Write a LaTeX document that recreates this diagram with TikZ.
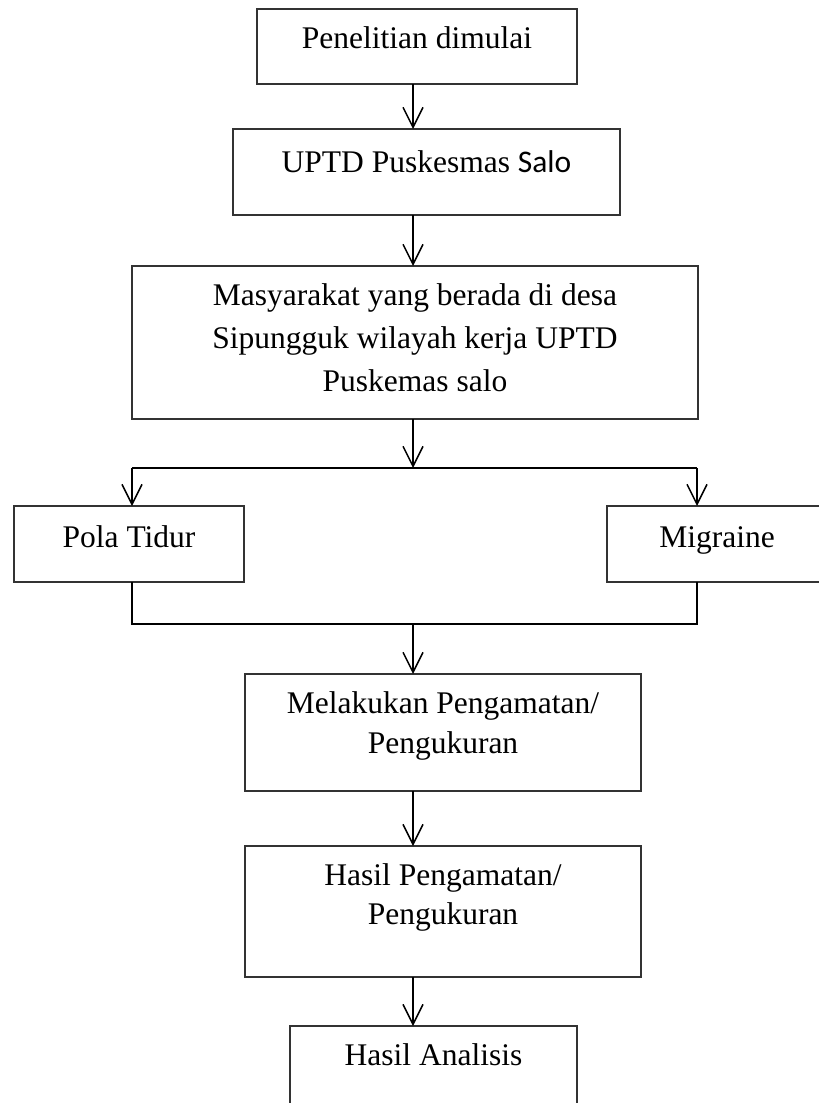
\documentclass[tikz,border=0pt]{standalone}
\usepackage{fontspec}
\setmainfont{Liberation Serif}
\newfontfamily\salofont{Carlito}
\usetikzlibrary{arrows.meta}

\begin{document}
\begin{tikzpicture}[x=1pt,y=-1pt,>={Straight Barb[length=20pt,width=20pt]},
  kotak/.style={draw=black!80,line width=1.2pt,inner sep=0pt,outer sep=0pt},
  isi/.style={font=\fontsize{31.5}{43}\selectfont,inner sep=0pt,align=center,anchor=base},
  garis/.style={line width=1.5pt}]

\useasboundingbox (0,0) rectangle (819,1103);

\node(mulai) at (417,46.5)[kotak,minimum width=320pt,minimum height=75pt]{};
\node(puskesmas) at (426.5,172)[kotak,minimum width=387pt,minimum height=86pt]{};
\node(masyarakat) at (415,342.5)[kotak,minimum width=566pt,minimum height=153pt]{};
\node(pola) at (129,544)[kotak,minimum width=230pt,minimum height=76pt]{};
\node(migrain) at (717,544)[kotak,minimum width=220pt,minimum height=76pt]{};
\node(amati) at (443,732.5)[kotak,minimum width=396pt,minimum height=117pt]{};
\node(hasil) at (443,911.5)[kotak,minimum width=396pt,minimum height=131pt]{};
\node(analisis) at (433.5,1073)[kotak,minimum width=287pt,minimum height=94pt]{};

% base of a multi-line node is its last line
\node(tmulai) at ([yshift=-39pt]mulai.north)[isi]{Penelitian dimulai};
\node(tpuskesmas) at ([yshift=-43pt]puskesmas.north)[isi]{UPTD Puskesmas {\salofont Salo}};
\node(tmasyarakat) at ([yshift=-125pt]masyarakat.north)[isi]{Masyarakat yang berada di desa\\ Sipungguk wilayah kerja UPTD\\ Puskemas salo};
\node(tpola) at ([yshift=-41pt]pola.north)[isi]{Pola Tidur};
\node(tmigrain) at ([yshift=-41pt]migrain.north)[isi]{Migraine};
\node(tamati) at ([yshift=-79pt]amati.north)[isi,font=\fontsize{31.5}{40}\selectfont]{Melakukan Pengamatan/\\ Pengukuran};
\node(thasil) at ([yshift=-78pt]hasil.north)[isi,font=\fontsize{31.5}{39}\selectfont]{Hasil Pengamatan/\\ Pengukuran};
\node(tanalisis) at ([yshift=-39pt]analisis.north)[isi]{Hasil Analisis};

\coordinate(cabang) at (413,468);
\coordinate(kiri) at (132,468);
\coordinate(kanan) at (697,468);
\coordinate(gabung) at (413,624);

\draw[garis,->] (mulai.south -| cabang) -- (puskesmas.north -| cabang);
\draw[garis,->] (puskesmas.south -| cabang) -- (masyarakat.north -| cabang);
\draw[garis,->] (masyarakat.south -| cabang) -- (cabang);
\draw[garis] (kiri) -- (kanan);
\draw[garis,->] (kiri) -- (pola.north -| kiri);
\draw[garis,->] (kanan) -- (migrain.north -| kanan);
\draw[garis] (pola.south -| kiri) |- (gabung) -| (migrain.south -| kanan);
\draw[garis,->] (gabung) -- (amati.north -| gabung);
\draw[garis,->] (amati.south -| gabung) -- (hasil.north -| gabung);
\draw[garis,->] (hasil.south -| gabung) -- (analisis.north -| gabung);

\end{tikzpicture}
\end{document}
